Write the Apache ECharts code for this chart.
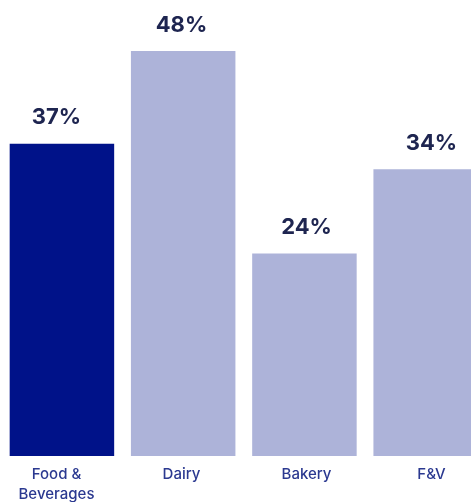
<!DOCTYPE html>
<html>
<head>
<meta charset="utf-8">
<style>html,body{margin:0;padding:0;background:#fff;}#c{width:471px;height:502px;}</style>
<script src="https://cdn.jsdelivr.net/npm/echarts@6/dist/echarts.min.js"></script>
</head>
<body>
<div id="c"></div>
<script>
const categories = ['Food &\nBeverages', 'Dairy', 'Bakery', 'F&V'];
const values = [37, 48, 24, 34];
const highlightIndex = 0;
const valueMax = 48;

const chart = echarts.init(document.getElementById('c'), null, {renderer: 'canvas'});
chart.setOption({
  animation: false,
  backgroundColor: '#ffffff',
  grid: [
    {left: 1.3, top: 51, width: 485, height: 405, containLabel: false, outerBoundsMode: 'none'},
    {left: -6, top: 51, width: 500, height: 405, containLabel: false, outerBoundsMode: 'none'}
  ],
  xAxis: [
    {
      type: 'category', gridIndex: 0, data: categories,
      axisLine: {show: false}, axisTick: {show: false}, axisLabel: {show: false}
    },
    {
      type: 'category', gridIndex: 1, data: categories,
      axisLine: {show: false}, axisTick: {show: false},
      axisLabel: {
        color: '#2b3990',
        fontFamily: 'Inter',
        fontSize: 15,
        fontWeight: 500,
        margin: 9,
        lineHeight: 19.5,
        interval: 0
      }
    }
  ],
  yAxis: [
    {type: 'value', gridIndex: 0, min: 0, max: valueMax, show: false, splitLine: {show: false}},
    {type: 'value', gridIndex: 1, min: 0, max: valueMax, show: false, splitLine: {show: false}}
  ],
  series: [
    {
      type: 'bar',
      xAxisIndex: 0, yAxisIndex: 0,
      barWidth: 104.5,
      data: values.map((v, i) => ({
        value: v,
        itemStyle: {color: i === highlightIndex ? '#001289' : '#adb3d9'}
      })),
      label: {show: false}
    },
    {
      type: 'bar',
      xAxisIndex: 1, yAxisIndex: 1,
      barWidth: 50,
      silent: true,
      itemStyle: {color: 'rgba(0,0,0,0)'},
      data: values,
      label: {
        show: true,
        position: 'top',
        distance: 15,
        formatter: '{c}%',
        color: '#1e2550',
        fontFamily: 'Inter',
        fontSize: 22,
        fontWeight: 700
      }
    }
  ]
});
</script>
</body>
</html>
